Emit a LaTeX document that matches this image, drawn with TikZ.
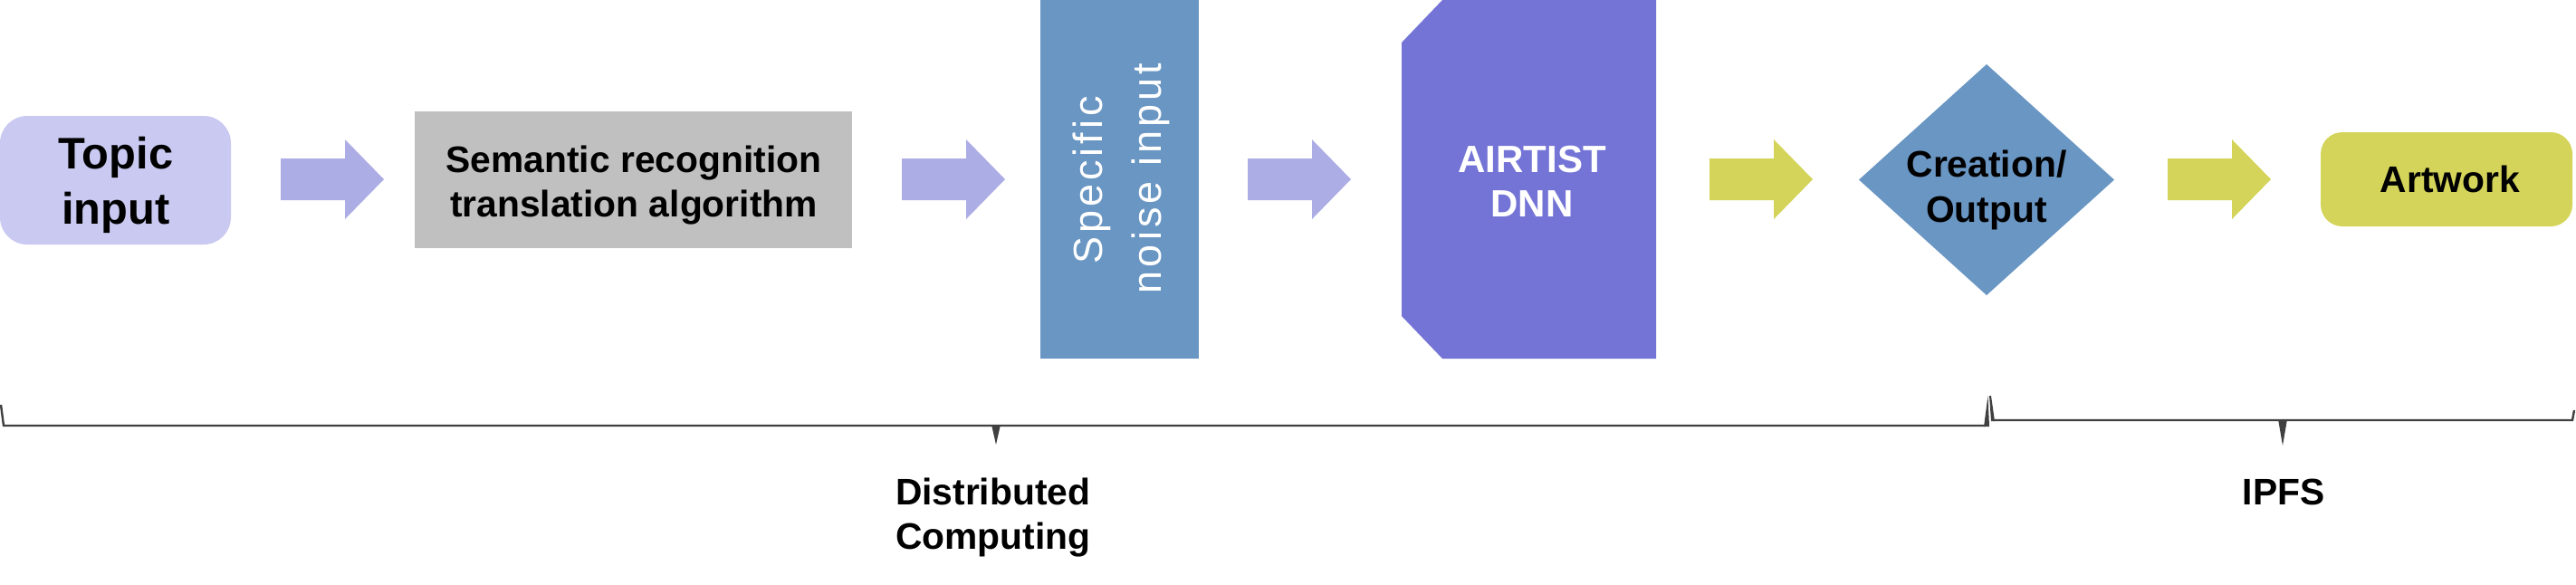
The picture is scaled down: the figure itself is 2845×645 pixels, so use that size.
\documentclass[tikz,border=0pt]{standalone}
\usepackage{fontspec}
\setmainfont{Liberation Sans}
\newfontfamily\noisefont[LetterSpace=9]{Liberation Sans}
\usetikzlibrary{calc}
\definecolor{topicc}{HTML}{C9C9F1}
\definecolor{lavarrow}{HTML}{ADADE6}
\definecolor{grayc}{HTML}{C0C0C0}
\definecolor{steel}{HTML}{6A96C3}
\definecolor{dnnc}{HTML}{7474D6}
\definecolor{olive}{HTML}{D4D45A}
\definecolor{brc}{HTML}{404040}
\begin{document}
\begin{tikzpicture}[x=0.25pt,y=-0.25pt,
  every node/.style={inner sep=0pt,outer sep=0pt},
  lbl/.style={anchor=base,font=\bfseries\fontsize{10.2}{12}\selectfont},
  biglbl/.style={anchor=base,font=\bfseries\fontsize{12.2}{15}\selectfont},
  noiselbl/.style={anchor=base,rotate=90,text=white,font=\noisefont\fontsize{11.25}{14}\selectfont},
  barrow/.pic={\fill[#1] (0,-23) -- (71,-23) -- (71,-44) -- (114,0) -- (71,44) -- (71,23) -- (0,23) -- cycle;},
  braceline/.style={draw=brc,line width=0.6pt,line join=miter},
  bracetick/.style={fill=brc}
]
\useasboundingbox (0,0) rectangle (2845,645);

% Topic input
\node[fill=topicc,rounded corners=7.5pt,minimum width=63.75pt,minimum height=35.5pt] (topic) at (127.5,199) {};
\node[biglbl] (topicA) at (128,186) {Topic};
\node[biglbl] (topicB) at (128,247) {input};

% Semantic recognition
\node[fill=grayc,minimum width=120.75pt,minimum height=37.75pt] (sem) at (699.5,198.5) {};
\node[lbl] (semA) at (700,190) {Semantic recognition};
\node[lbl] (semB) at (700,239) {translation algorithm};

% Specific noise input
\node[fill=steel,minimum width=43.75pt,minimum height=99pt] (noise) at (1236,198) {};
\node[noiselbl] (noiseA) at (1217,199) {Specific};
\node[noiselbl] (noiseB) at (1282,197) {noise input};

% AIRTIST DNN
\node[minimum width=70.25pt,minimum height=99pt] (dnn) at (1688.5,198) {};
\fill[dnnc] ($(dnn.north west)+(0,47)$) -- ($(dnn.north west)+(45,0)$) -- (dnn.north east)
  -- (dnn.south east) -- ($(dnn.south west)+(45,0)$) -- ($(dnn.south west)+(0,-47)$) -- cycle;
\node[lbl,text=white,font=\bfseries\fontsize{10.5}{12}\selectfont] (dnnA) at (1692,190) {AIRTIST};
\node[lbl,text=white,font=\bfseries\fontsize{10.5}{12}\selectfont] (dnnB) at (1692,239) {DNN};

% Creation/Output diamond
\node[minimum width=70.5pt,minimum height=63.75pt] (out) at (2194,198.5) {};
\fill[steel] (out.north) -- (out.east) -- (out.south) -- (out.west) -- cycle;
\node[lbl] (outA) at (2194,195) {Creation/};
\node[lbl] (outB) at (2194,245) {Output};

% Artwork
\node[fill=olive,rounded corners=6pt,minimum width=69.5pt,minimum height=26pt] (art) at (2702,198) {};
\node[lbl] (artA) at (2706,212) {Artwork};

% block arrows
\pic (a1) at (310,198) {barrow=lavarrow};
\pic (a2) at (996,198) {barrow=lavarrow};
\pic (a3) at (1378,198) {barrow=lavarrow};
\pic (a4) at (1888,198) {barrow=olive};
\pic (a5) at (2394,198) {barrow=olive};

% braces
\path[braceline] (1,447) -- (4,470) -- (2193,470);
\fill[bracetick] (2191,471) -- (2195.5,437) -- (2197,471) -- cycle;
\fill[bracetick] (1095,469) -- (1105,469) -- (1100,491) -- cycle;
\path[braceline] (2201,464) -- (2841,464) -- (2843,453);
\fill[bracetick] (2197,437) -- (2199,437) -- (2203,465) -- (2199,465) -- cycle;
\fill[bracetick] (2516,463) -- (2526,463) -- (2521,492) -- cycle;

% brace labels
\node[lbl,anchor=base west] (dcA) at (989,557) {Distributed};
\node[lbl,anchor=base west] (dcB) at (989,606) {Computing};
\node[lbl] (ipfs) at (2522,557) {IPFS};
\end{tikzpicture}
\end{document}
